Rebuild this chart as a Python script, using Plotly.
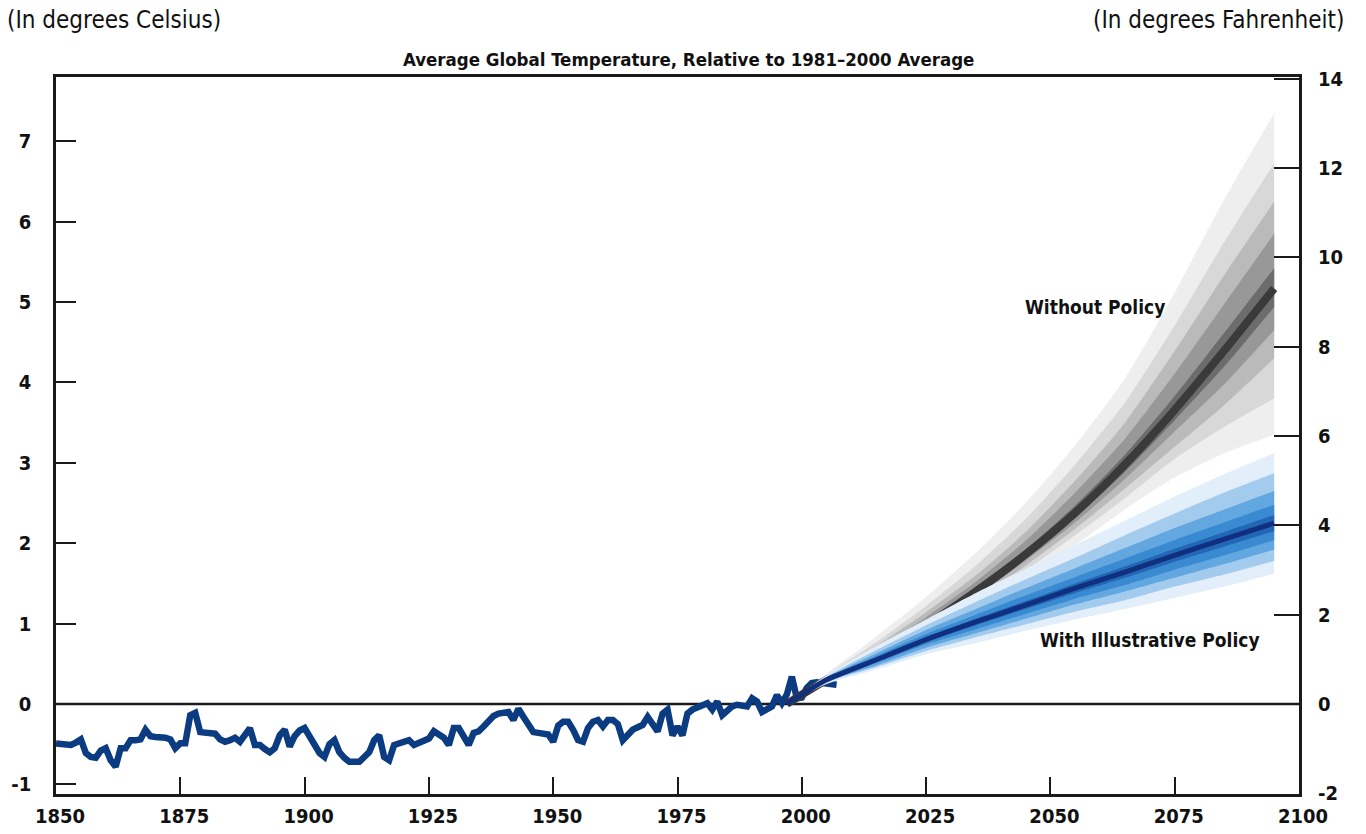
import plotly.graph_objects as go

# ---------------- data ----------------
HIST_YEARS = list(range(1850, 2008))
HIST_TEMP = [
    -0.49, -0.50, -0.51, -0.51, -0.48, -0.44, -0.61, -0.66, -0.67, -0.58,
    -0.55, -0.70, -0.78, -0.55, -0.55, -0.45, -0.45, -0.44, -0.32, -0.40,
    -0.41, -0.41, -0.42, -0.44, -0.55, -0.49, -0.49, -0.14, -0.11, -0.35,
    -0.36, -0.36, -0.37, -0.44, -0.47, -0.45, -0.42, -0.47, -0.38, -0.30,
    -0.51, -0.51, -0.56, -0.60, -0.55, -0.39, -0.32, -0.53, -0.40, -0.33,
    -0.30, -0.40, -0.51, -0.61, -0.66, -0.50, -0.45, -0.60, -0.67, -0.72,
    -0.72, -0.72, -0.66, -0.60, -0.45, -0.39, -0.66, -0.70, -0.51, -0.49,
    -0.47, -0.45, -0.51, -0.49, -0.46, -0.43, -0.34, -0.38, -0.42, -0.51,
    -0.30, -0.30, -0.40, -0.51, -0.36, -0.34, -0.28, -0.20, -0.15, -0.12,
    -0.10, -0.10, -0.20, -0.06, -0.16, -0.25, -0.35, -0.36, -0.37, -0.38,
    -0.47, -0.27, -0.22, -0.22, -0.32, -0.45, -0.47, -0.30, -0.22, -0.20,
    -0.28, -0.20, -0.20, -0.25, -0.45, -0.38, -0.32, -0.29, -0.26, -0.16,
    -0.24, -0.34, -0.12, -0.07, -0.39, -0.28, -0.39, -0.12, -0.07, -0.05,
    -0.03, 0.01, -0.07, 0.03, -0.14, -0.08, -0.03, -0.01, -0.02, -0.03,
    0.07, 0.03, -0.10, -0.06, -0.03, 0.11, 0.01, 0.12, 0.34, 0.07,
    0.08, 0.20, 0.26, 0.27, 0.26, 0.26, 0.24, 0.24,
]

FAN_YEARS = [1997, 2005, 2015, 2025, 2035, 2045, 2055, 2065, 2075, 2085, 2095]

# Without policy (grey fan) percentiles
NOPOL_P95 = [0.00, 0.38, 0.84, 1.33, 1.88, 2.50, 3.22, 4.05, 5.12, 6.28, 7.35]
NOPOL_P90 = [0.00, 0.36, 0.77, 1.22, 1.72, 2.30, 2.98, 3.75, 4.71, 5.75, 6.73]
NOPOL_P80 = [0.00, 0.34, 0.72, 1.14, 1.60, 2.14, 2.78, 3.50, 4.39, 5.34, 6.25]
NOPOL_P70 = [0.00, 0.33, 0.68, 1.08, 1.52, 2.03, 2.63, 3.30, 4.11, 4.98, 5.85]
NOPOL_P60 = [0.00, 0.31, 0.64, 1.02, 1.45, 1.92, 2.47, 3.10, 3.83, 4.62, 5.42]
NOPOL_MED = [0.00, 0.30, 0.62, 0.98, 1.40, 1.86, 2.38, 2.98, 3.66, 4.40, 5.17]
NOPOL_P40 = [0.00, 0.29, 0.60, 0.95, 1.37, 1.82, 2.32, 2.89, 3.53, 4.20, 4.94]
NOPOL_P30 = [0.00, 0.28, 0.58, 0.92, 1.34, 1.78, 2.26, 2.80, 3.39, 3.98, 4.65]
NOPOL_P20 = [0.00, 0.27, 0.56, 0.88, 1.30, 1.72, 2.18, 2.68, 3.20, 3.72, 4.30]
NOPOL_P10 = [0.00, 0.26, 0.53, 0.84, 1.26, 1.66, 2.10, 2.56, 3.05, 3.45, 3.80]
NOPOL_P5 = [0.00, 0.25, 0.50, 0.80, 1.20, 1.58, 1.98, 2.42, 2.82, 3.12, 3.35]

# With illustrative policy (blue fan) percentiles
POL_P95 = [0.00, 0.36, 0.72, 1.05, 1.38, 1.68, 1.98, 2.28, 2.58, 2.86, 3.12]
POL_P90 = [0.00, 0.34, 0.67, 0.98, 1.27, 1.55, 1.82, 2.10, 2.37, 2.63, 2.87]
POL_P80 = [0.00, 0.33, 0.63, 0.92, 1.18, 1.44, 1.69, 1.94, 2.19, 2.42, 2.65]
POL_P70 = [0.00, 0.32, 0.60, 0.87, 1.11, 1.35, 1.58, 1.81, 2.04, 2.26, 2.48]
POL_P60 = [0.00, 0.31, 0.57, 0.83, 1.06, 1.28, 1.50, 1.71, 1.93, 2.14, 2.35]
POL_MED = [0.00, 0.30, 0.55, 0.80, 1.02, 1.23, 1.44, 1.64, 1.85, 2.05, 2.25]
POL_P40 = [0.00, 0.29, 0.53, 0.77, 0.98, 1.18, 1.38, 1.57, 1.77, 1.96, 2.15]
POL_P30 = [0.00, 0.29, 0.51, 0.74, 0.93, 1.12, 1.31, 1.48, 1.67, 1.85, 2.04]
POL_P20 = [0.00, 0.28, 0.48, 0.70, 0.88, 1.06, 1.24, 1.40, 1.57, 1.74, 1.92]
POL_P10 = [0.00, 0.27, 0.46, 0.66, 0.83, 0.99, 1.15, 1.29, 1.46, 1.61, 1.78]
POL_P5 = [0.00, 0.25, 0.43, 0.62, 0.76, 0.91, 1.05, 1.18, 1.32, 1.46, 1.62]

X_TICKS = [1850, 1875, 1900, 1925, 1950, 1975, 2000, 2025, 2050, 2075, 2100]
C_TICKS = [-1, 0, 1, 2, 3, 4, 5, 6, 7]
C_TICK_TEXT = ["-1", "0", "1", "2", "3", "4", "5", "6", "7"]
F_TICKS = [-2, 0, 2, 4, 6, 8, 10, 12, 14]
F_TICK_TEXT = ["-2", "0", "2", "4", "6", "8", "10", "12", "14"]
C_RANGE = [-1.12, 7.80]
F_RANGE = [C_RANGE[0] * 1.8, C_RANGE[1] * 1.8]

TITLE = "Average Global Temperature, Relative to 1981\u20132000 Average"
LEFT_UNIT = "(In degrees Celsius)"
RIGHT_UNIT = "(In degrees Fahrenheit)"
LABEL_NOPOL = "Without Policy"
LABEL_POL = "With Illustrative Policy"

# ---------------- styling ----------------
FONT = "Liberation Sans Narrow, DejaVu Sans Condensed, Arial Narrow, sans-serif"
GREY_COLORS = ["#eeeeee", "#d8d8d8", "#bababa", "#989898", "#6c6c6c"]
GREY_MED = "#3a3a3a"
BLUE_COLORS = ["#e2eef9", "#a3cbee", "#62a7df", "#3a8ad2", "#2266b6"]
BLUE_MED = "#102f7e"
HIST_COLOR = "#0b3b80"
AX_COLOR = "#1a1a1a"

fig = go.Figure()

# historical series
fig.add_trace(go.Scatter(
    x=HIST_YEARS, y=HIST_TEMP, mode="lines",
    line=dict(color=HIST_COLOR, width=6.5, shape="linear"),
    hoverinfo="skip", showlegend=False))


def add_fan(lows, highs, med, colors, med_color, med_width):
    for lo, hi, col in zip(lows, highs, colors):
        fig.add_trace(go.Scatter(
            x=FAN_YEARS, y=lo, mode="lines",
            line=dict(width=0, color=col, shape="spline", smoothing=0.6),
            hoverinfo="skip", showlegend=False))
        fig.add_trace(go.Scatter(
            x=FAN_YEARS, y=hi, mode="lines", fill="tonexty", fillcolor=col,
            line=dict(width=0, color=col, shape="spline", smoothing=0.6),
            hoverinfo="skip", showlegend=False))
    fig.add_trace(go.Scatter(
        x=FAN_YEARS, y=med, mode="lines",
        line=dict(color=med_color, width=med_width, shape="spline", smoothing=0.6),
        hoverinfo="skip", showlegend=False))


add_fan([NOPOL_P5, NOPOL_P10, NOPOL_P20, NOPOL_P30, NOPOL_P40],
        [NOPOL_P95, NOPOL_P90, NOPOL_P80, NOPOL_P70, NOPOL_P60],
        NOPOL_MED, GREY_COLORS, GREY_MED, 8)
add_fan([POL_P5, POL_P10, POL_P20, POL_P30, POL_P40],
        [POL_P95, POL_P90, POL_P80, POL_P70, POL_P60],
        POL_MED, BLUE_COLORS, BLUE_MED, 5)

# dummy trace bound to the Fahrenheit axis so it is drawn
fig.add_trace(go.Scatter(x=[None], y=[None], yaxis="y2", mode="lines",
                         hoverinfo="skip", showlegend=False))

# zero line
fig.add_shape(type="line", xref="paper", x0=0, x1=1, yref="y", y0=0, y1=0,
              line=dict(color=AX_COLOR, width=2.5), layer="below")

tick_font = dict(family=FONT, size=20, color="#111111", weight="bold")

fig.update_layout(
    width=1366, height=834,
    margin=dict(l=56, r=67, t=77, b=40, autoexpand=False),
    plot_bgcolor="white", paper_bgcolor="white",
    showlegend=False,
    xaxis=dict(range=[1850, 2100], tickvals=X_TICKS, ticks="inside",
               ticklen=17, tickwidth=2, tickcolor=AX_COLOR,
               showline=True, linewidth=2.5, linecolor=AX_COLOR, mirror=True,
               showgrid=False, zeroline=False, tickfont=tick_font,
               ticklabelstandoff=2, automargin=False, ticklabelshift=4),
    yaxis=dict(range=C_RANGE, tickvals=C_TICKS, ticktext=C_TICK_TEXT,
               ticks="inside", ticklen=20, tickwidth=2, tickcolor=AX_COLOR,
               showline=True, linewidth=2.5, linecolor=AX_COLOR, mirror=True,
               showgrid=False, zeroline=False, tickfont=tick_font,
               ticklabelstandoff=18, automargin=False),
    yaxis2=dict(range=F_RANGE, tickvals=F_TICKS, ticktext=F_TICK_TEXT,
                overlaying="y", side="right",
                ticks="inside", ticklen=25, tickwidth=2, tickcolor=AX_COLOR,
                showline=False, showgrid=False, zeroline=False,
                tickfont=tick_font, ticklabelstandoff=18, automargin=False),
    annotations=[
        dict(text="<b>" + TITLE + "</b>", xref="paper", yref="paper",
             x=0.509, y=1.024, xanchor="center", yanchor="middle",
             showarrow=False, font=dict(family=FONT, size=18.5, color="#111111")),
        dict(text=LEFT_UNIT, xref="paper", yref="paper", x=-0.0408, y=1.08,
             xanchor="left", yanchor="middle", showarrow=False,
             font=dict(family=FONT, size=24, color="#111111")),
        dict(text=RIGHT_UNIT, xref="paper", yref="paper", x=1.038, y=1.08,
             xanchor="right", yanchor="middle", showarrow=False,
             font=dict(family=FONT, size=24, color="#111111")),
        dict(text="<b>" + LABEL_NOPOL + "</b>", xref="x", yref="y",
             x=2059, y=4.94, xanchor="center", yanchor="middle",
             showarrow=False, font=dict(family=FONT, size=19, color="#111111")),
        dict(text="<b>" + LABEL_POL + "</b>", xref="x", yref="y",
             x=2070, y=0.80, xanchor="center", yanchor="middle",
             showarrow=False, font=dict(family=FONT, size=19, color="#111111")),
    ],
)

# remove the browser's default 8px page margin so the figure fills the window
fig.write_html("out.html",
               config={"displayModeBar": False},
               post_script="document.body.style.margin='0';"
                           "document.body.style.overflow='hidden';")
